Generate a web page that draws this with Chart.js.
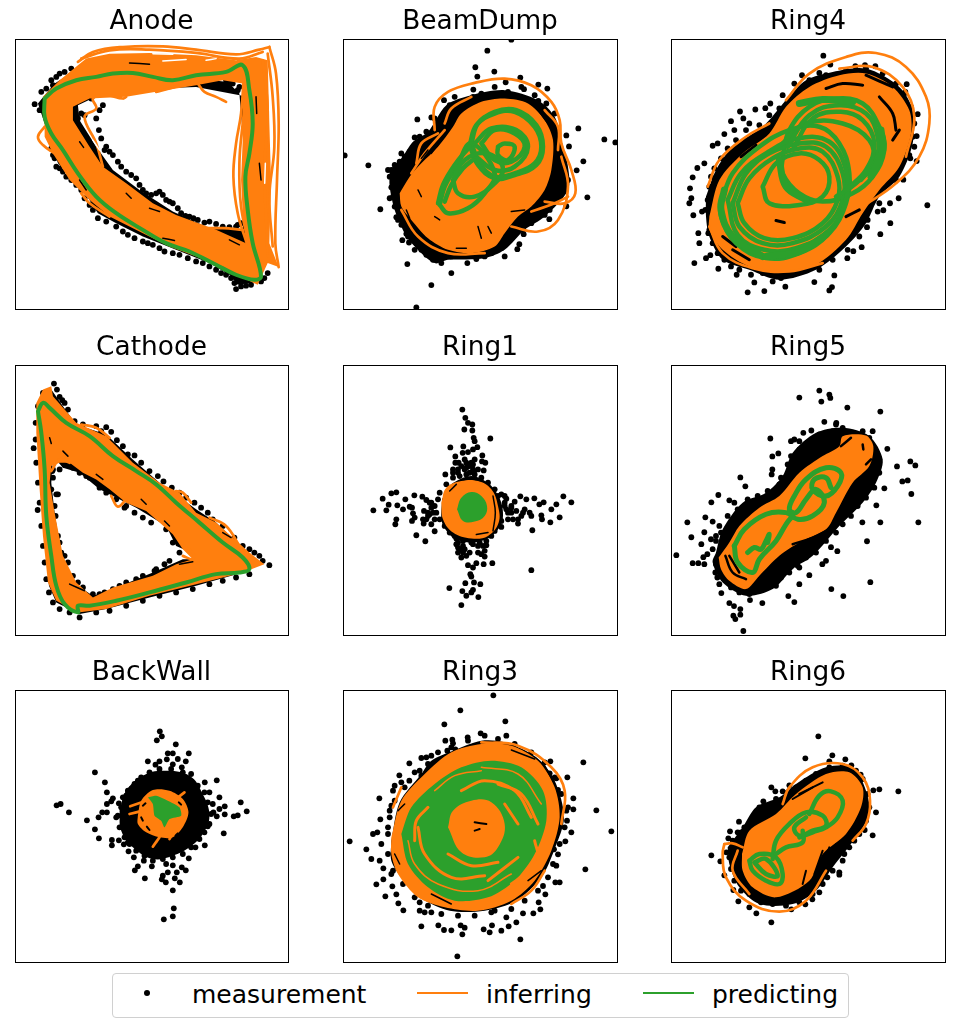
<!DOCTYPE html>
<html>
<head>
<meta charset="utf-8">
<title>Trajectories</title>
<script src="https://cdn.jsdelivr.net/npm/chart.js@4/dist/chart.umd.min.js"></script>
<style>
    html, body { margin: 0; padding: 0; background: white; }
    body { width: 954px; height: 1027px; position: relative; overflow: hidden; font-family: "DejaVu Sans", sans-serif; }
    canvas { position: absolute; }
    #legend { position: absolute; left: 112px; top: 973px; width: 735px; height: 43px; border: 1px solid #d0d0d0; border-radius: 4px; }
    #legend span { position: absolute; }
    .label { font-size: 25px; line-height: 30px; top: 6px; color: black; }
    .swatch { height: 2px; width: 51px; top: 18px; }
    #dot { left: 31px; top: 16px; width: 6px; height: 6px; border-radius: 50%; background: black; }
</style>
</head>
<body>
<div id="legend">
    <span id="dot"></span><span class="label" style="left:79px">measurement</span>
    <span class="swatch" style="left:304px;background:#ff7f0e"></span><span class="label" style="left:373px">inferring</span>
    <span class="swatch" style="left:530px;background:#2ca02c"></span><span class="label" style="left:599px">predicting</span>
</div>
<script>
const titles = ["Anode", "BeamDump", "Ring4", "Cathode", "Ring1", "Ring5", "BackWall", "Ring3", "Ring6"];

// all values, one unit is a third of a pixel
const anodeDots = [[195,235],[205,265],[225,255],[245,205],[280,225],[270,240],[268,300],[275,325],[290,350],[310,375],[325,395],[350,425],[380,445],[400,480],[425,495],[450,485],[470,510],[490,520],[515,550],[540,560],[565,570],[600,575],[640,590],[680,590],[695,580],[75,222],[95,185],[125,150],[130,165],[150,130],[185,115],[290,175],[660,155],[690,170],[135,385],[140,410],[160,425],[185,450],[215,480],[240,525],[265,565],[320,590],[355,615],[400,635],[430,645],[465,665],[510,675],[560,695],[600,710],[635,730],[665,745],[680,778],[710,768],[765,745],[775,730],[110,175],[140,140],[165,125],[90,240],[125,355],[130,375],[150,415],[170,440],[200,465],[225,505],[250,540],[290,575],[340,605],[375,625],[415,640],[450,655],[490,670],[535,685],[580,700],[620,720],[650,735],[675,760],[695,770],[725,765],[755,755],[215,250],[260,265],[285,360],[300,365],[335,410],[365,435],[390,465],[410,490],[440,490],[460,495],[480,515],[505,535],[528,558],[552,565],[585,578],[620,582],[660,592],[685,585],[650,150],[670,160],[685,180]];
const anodeMass = [[85,220],[105,195],[135,160],[190,125],[400,125],[655,155],[690,190],[735,735],[760,745],[725,760],[685,765],[660,735],[600,700],[500,660],[400,620],[320,580],[265,550],[220,480],[145,400],[125,340],[85,220],[210,270],[260,350],[310,420],[390,480],[490,545],[600,595],[700,600],[715,200],[560,170],[300,180],[205,225],[210,270],[85,220]];
const anodeOrange = [[205,105],[230,85],[300,70],[420,68],[560,75],[680,90],[740,80],[775,90],[780,280],[785,450],[780,640],[808,712],[775,700],[745,765],[700,745],[640,710],[560,680],[480,650],[400,610],[300,560],[240,510],[180,450],[130,370],[105,320],[105,270],[100,200],[150,150],[205,105],[240,205],[190,230],[190,270],[240,350],[280,410],[350,460],[430,520],[500,555],[620,600],[710,640],[700,550],[695,450],[700,330],[700,160],[640,150],[560,165],[440,185],[350,200],[240,205],[205,105]];
const anodeLoops = [[[565,160],[585,185],[620,200],[650,215]],[[350,200],[340,205],[290,195],[250,205],[260,235],[225,260],[260,340],[280,410]],[[105,290],[85,320],[100,345],[135,370]],[[700,600],[640,595],[590,595]],[[440,185],[480,175],[540,155]],[[300,560],[240,520],[215,490]],[[205,95],[250,65],[340,50],[460,48],[560,58],[680,72],[750,58],[780,50]],[[215,85],[300,60],[420,58],[560,68],[690,85],[760,65]],[[780,50],[800,130],[808,280],[803,450],[798,640],[808,712]],[[775,70],[790,200],[795,350],[780,500],[790,650]],[[760,90],[775,240],[765,420],[770,560],[775,680]],[[705,110],[695,250],[680,340],[672,440],[685,550],[712,640]],[[715,160],[700,280],[690,400],[695,530],[720,650]]];
const anodeStreaks = [[[210,335],[222,352]],[[360,98],[420,102]],[[740,200],[742,250]],[[750,400],[755,450]],[[460,625],[495,632]],[[210,450],[230,480]],[[420,535],[450,545]],[[660,630],[690,645]],[[350,490],[365,505]]];
const anodeGaps = [[[768,400],[766,460]],[[460,92],[530,88]],[[430,70],[490,72]],[[270,360],[250,330]],[[590,90],[620,85]]];
const anodeGreen = [[[105,205],[140,175],[200,150],[260,140],[310,130],[370,128],[430,140],[490,150],[560,135],[650,125],[700,105],[720,180],[730,280],[720,370],[708,440],[715,540],[730,640],[755,740],[735,750],[680,735],[620,705],[540,665],[470,640],[400,600],[320,550],[260,500],[205,430],[160,360],[125,310],[105,260],[105,205]]];

const beamDots = [[520,28],[448,61],[412,111],[418,139],[469,124],[547,142],[601,163],[628,175],[238,268],[721,295],[685,316],[799,328],[832,337],[20,376],[91,406],[736,394],[716,421],[693,349],[748,502],[685,529],[127,538],[634,568],[193,631],[208,703],[340,730],[280,766],[235,833],[538,658],[544,643],[557,613],[388,700],[415,688],[500,680],[190,370],[230,322],[280,262],[318,210],[375,213],[406,178],[503,156],[558,177],[601,212],[150,420],[155,440],[160,472],[155,505],[175,562],[205,612],[213,638],[170,405],[185,395],[200,380],[215,365],[230,345],[245,320],[265,305],[290,265],[335,225],[350,200],[160,420],[175,445],[165,500],[170,530],[180,570],[190,585],[210,620],[230,660],[250,660],[265,675],[285,690],[310,700],[340,680],[370,675],[440,680],[460,670],[490,655],[510,625],[555,600],[580,580],[620,555],[650,510],[680,480],[690,450],[665,410],[660,350],[660,310],[650,250],[625,220],[590,195],[550,170],[510,185],[470,170],[430,190],[405,200],[635,540],[600,555]];
const beamMass = [[155,420],[190,385],[225,335],[270,305],[325,225],[400,195],[500,180],[600,210],[650,260],[670,330],[690,410],[690,480],[620,560],[560,600],[500,660],[440,685],[330,690],[290,700],[230,650],[200,610],[170,540],[155,470],[155,420]];
const beamOrange = [[185,490],[215,440],[250,400],[300,350],[345,290],[370,250],[430,215],[500,205],[570,220],[620,270],[645,330],[640,420],[620,480],[580,530],[540,560],[500,610],[470,650],[400,670],[330,660],[270,625],[220,570],[190,530],[185,490]];
const beamLoops = [[[290,300],[290,230],[330,185],[410,158],[500,145],[580,165],[640,215],[665,270],[670,340],[700,420],[712,490],[680,520],[620,515]],[[520,590],[600,605],[660,570],[690,470],[670,380]],[[235,400],[250,340],[300,310]],[[320,280],[340,235],[400,200]],[[620,240],[660,290],[660,360]],[[580,545],[650,520],[690,500]],[[220,430],[260,370],[320,300]],[[190,540],[240,620],[330,670],[440,670]]];
const beamStreaks = [[[205,540],[215,565]],[[450,590],[460,610]],[[520,545],[560,540]],[[240,480],[250,500]],[[355,655],[385,655]],[[640,450],[650,480]],[[600,240],[630,280]],[[280,370],[310,330]],[[250,385],[270,360]],[[550,590],[590,570]],[[420,590],[430,625]],[[290,560],[305,570]]];
const beamGreen = [[[400,340],[420,280],[470,250],[530,245],[590,290],[610,350],[590,400],[530,430],[470,440],[425,400],[400,340]],[[395,345],[415,285],[470,245],[535,240],[595,285],[615,350],[595,405],[530,435],[470,445],[420,405],[395,345]],[[305,525],[320,470],[360,400],[400,340],[470,430],[440,490],[390,535],[330,550],[305,525]],[[320,515],[340,465],[375,415],[410,385]],[[300,520],[315,465],[350,405],[395,350]],[[430,340],[470,300],[530,310],[560,350],[520,395],[470,390],[430,340]],[[410,340],[460,295],[535,300],[570,350],[530,410],[470,420],[415,380]],[[480,350],[500,340],[530,350],[510,390],[480,375],[480,350]],[[345,450],[370,400],[420,370],[470,380],[495,420],[470,460],[410,500],[360,490],[345,450]]];

const ring4Dots = [[472,76],[493,103],[568,108],[597,105],[628,108],[408,135],[460,128],[722,162],[718,185],[755,252],[752,318],[745,350],[733,385],[752,393],[712,449],[784,526],[698,505],[672,520],[635,545],[652,541],[673,580],[643,613],[603,592],[587,652],[562,664],[544,685],[505,737],[498,772],[490,782],[445,757],[358,771],[295,784],[245,788],[265,758],[212,735],[157,717],[85,700],[120,685],[133,676],[100,640],[127,610],[97,610],[82,556],[108,545],[70,520],[76,505],[72,475],[80,442],[94,414],[115,400],[140,347],[155,340],[175,312],[195,273],[222,244],[232,265],[268,238],[298,234],[313,220],[350,195],[385,160],[250,280],[205,300],[130,470],[125,510],[118,540],[130,600],[140,640],[155,670],[175,690],[195,710],[220,720],[255,735],[290,730],[320,755],[345,745],[380,730],[420,720],[460,720],[500,690],[545,660],[580,620],[605,570],[640,520],[690,450],[730,375],[740,320],[745,280],[735,230],[715,190],[690,160],[650,130],[600,115],[540,120],[480,135],[430,150],[390,190],[365,215],[340,235],[310,255],[280,285],[240,300],[210,330],[185,355],[165,385],[145,415],[135,440]];
const ring4Mass = [[120,500],[150,420],[200,350],[290,290],[360,210],[420,150],[500,125],[600,115],[700,170],[740,240],[740,340],[700,440],[640,500],[600,580],[540,650],[450,720],[340,750],[250,720],[170,690],[130,620],[120,560],[120,500]];
const ring4Orange = [[130,560],[160,450],[230,370],[310,310],[360,230],[430,170],[520,135],[600,130],[680,170],[730,240],[735,310],[700,410],[640,480],[590,550],[540,630],[450,705],[350,725],[250,710],[170,660],[130,600],[130,560]];
const ring4Loops = [[[360,210],[430,130],[540,80],[630,68],[720,110],[780,200],[790,280],[760,380],[690,460],[590,530]],[[125,470],[160,390],[240,320],[310,280]],[[130,590],[170,670],[260,715],[370,725],[470,700]],[[520,115],[620,110],[710,170],[745,260],[720,380]]];
const ring4Streaks = [[[640,200],[680,250],[690,300]],[[480,175],[530,160],[590,165]],[[600,135],[680,170]],[[170,620],[210,650]],[[225,380],[270,345]],[[200,660],[250,690]],[[330,572],[355,578]],[[680,330],[700,300]],[[540,560],[580,540]]];
const ring4Green = [[[350,380],[370,300],[430,230],[510,205],[590,220],[640,290],[655,360],[620,440],[560,490],[470,515],[400,490],[350,430],[350,380]],[[165,520],[200,430],[280,350],[370,300],[460,290],[520,340],[550,430],[540,520],[490,610],[400,670],[300,685],[210,640],[165,560],[165,520]],[[290,470],[330,400],[400,370],[460,390],[490,440],[470,500],[400,525],[310,520],[290,470]],[[200,520],[240,430],[310,370],[400,340],[480,350],[530,430],[530,510],[480,590],[380,640],[290,640],[220,590],[200,520]],[[350,340],[420,280],[530,280],[610,330],[620,400],[570,460],[510,500]],[[185,510],[225,430],[300,370],[395,325],[490,335],[540,420],[540,510],[490,600],[390,655],[295,660],[215,615],[185,510]],[[215,520],[250,445],[320,385],[400,355],[470,365],[515,440],[515,510],[470,580],[380,625],[295,625],[235,580],[215,520]],[[365,350],[430,255],[520,225],[600,250],[635,320],[630,390],[585,450]],[[380,360],[440,265],[525,245],[590,270],[625,340],[600,420],[540,480]]];
const ring4GreenWide = [[[340,390],[360,470],[420,510]],[[645,300],[650,360],[615,440]],[[400,220],[470,208],[560,215]],[[175,480],[165,540],[200,620],[290,680]],[[300,680],[400,665],[480,615]]];

const cathodeDots = [[133,82],[142,100],[150,122],[165,140],[290,213],[305,227],[322,252],[375,298],[445,360],[462,376],[487,395],[555,440],[595,470],[720,580],[750,600],[780,628],[72,276],[84,462],[140,415],[130,340],[145,415],[138,480],[145,540],[155,590],[175,620],[190,660],[250,715],[285,710],[330,690],[380,670],[435,645],[465,625],[345,455],[375,470],[400,485],[270,395],[240,365],[210,350],[165,327],[158,132],[175,160],[195,195],[220,205],[260,210],[275,225],[340,270],[355,295],[395,320],[420,345],[510,410],[530,425],[575,455],[610,490],[640,510],[675,545],[700,570],[735,590],[760,615],[720,655],[680,665],[640,675],[600,685],[550,700],[500,710],[450,720],[400,735],[350,750],[300,765],[260,770],[210,785],[180,770],[150,760],[130,740],[118,710],[110,670],[105,620],[100,570],[95,510],[90,440],[85,380],[80,320],[78,250],[78,200],[85,150],[100,110],[128,345],[130,365],[150,340],[190,335],[230,360],[290,410],[320,430],[350,450],[425,500],[470,520],[490,560],[510,590],[480,615],[440,640],[400,660],[350,680],[310,700],[270,715],[220,695],[205,680],[165,600],[150,560],[135,450],[125,400]];
const cathodeMass = [[125,100],[160,150],[200,205],[290,235],[370,310],[450,380],[560,460],[620,500],[715,590],[755,625],[700,650],[560,690],[420,725],[290,760],[210,775],[140,740],[118,690],[105,540],[95,400],[85,275],[90,150],[125,100],[130,300],[125,380],[135,470],[155,600],[190,680],[250,720],[310,700],[430,650],[520,610],[590,610],[500,570],[470,510],[380,455],[270,400],[210,350],[160,335],[130,300],[125,100]];
const cathodeOrange = [[125,90],[130,120],[200,200],[290,240],[370,320],[450,380],[510,410],[560,470],[620,500],[720,590],[765,625],[700,650],[560,685],[420,720],[290,760],[205,770],[140,735],[115,680],[100,540],[90,400],[80,230],[80,140],[100,100],[125,90],[125,330],[120,380],[135,470],[160,600],[200,680],[250,725],[310,695],[430,660],[500,625],[550,610],[520,580],[490,535],[450,500],[410,465],[350,440],[300,400],[260,370],[220,350],[180,320],[150,320],[125,330],[125,90]];
const cathodeLoops = [[[125,345],[150,310],[180,320]],[[305,420],[325,452],[350,430]],[[500,405],[520,410],[545,440]],[[520,570],[550,590],[550,610],[520,600]],[[600,485],[650,510],[690,570]],[[215,205],[260,215],[300,245]]];
const cathodeStreaks = [[[120,245],[125,262]],[[260,355],[280,370]],[[395,430],[410,445]],[[465,495],[480,510]],[[640,530],[665,545]],[[510,625],[550,618]],[[180,685],[225,705]],[[160,285],[175,300]]];
const cathodeGreen = [[[85,165],[100,140],[120,155],[170,200],[240,240],[310,300],[380,345],[440,385],[500,440],[570,500],[640,560],[700,605],[720,640],[690,650],[620,655],[530,680],[420,710],[320,735],[240,750],[205,750],[205,770],[165,745],[140,690],[125,600],[110,480],[105,340],[95,230],[85,165]]];

const ring1Dots = [[373,160],[382,185],[390,200],[403,205],[379,220],[403,223],[407,245],[457,247],[410,255],[337,274],[376,271],[418,273],[405,280],[374,290],[390,288],[433,298],[352,301],[380,310],[352,320],[362,320],[385,320],[405,325],[432,316],[442,320],[345,340],[322,355],[360,350],[380,340],[420,340],[437,343],[408,345],[160,412],[175,409],[229,418],[253,422],[134,428],[202,430],[152,446],[178,448],[265,432],[275,440],[106,463],[145,463],[195,460],[215,452],[222,455],[258,465],[225,472],[275,475],[230,485],[175,490],[172,505],[222,495],[255,490],[257,503],[235,538],[262,556],[290,526],[280,505],[290,490],[547,421],[565,430],[589,427],[617,439],[604,445],[676,421],[700,439],[655,445],[640,460],[610,478],[665,484],[637,499],[612,490],[580,480],[560,460],[540,490],[540,503],[583,523],[530,437],[505,428],[490,415],[520,470],[490,513],[580,643],[463,622],[437,625],[415,622],[390,628],[405,635],[397,655],[400,662],[382,682],[408,680],[427,685],[334,697],[373,706],[405,702],[400,710],[385,720],[421,724],[370,748],[355,548],[365,580],[360,590],[435,570],[430,595],[440,602],[370,605],[395,590],[445,568],[405,565],[460,540],[300,430],[290,450],[295,470],[305,490],[320,510],[335,530],[350,540],[375,555],[400,560],[425,560],[445,555],[470,525],[490,495],[500,450],[480,420],[470,400],[450,380],[430,365],[410,355],[385,355],[365,360],[345,365],[325,385],[305,410],[280,455],[285,470],[270,480],[505,460],[520,455],[535,465],[555,470],[575,470],[510,490],[525,490],[355,565],[375,570],[420,570],[440,585],[375,590],[360,575],[395,350],[405,340],[360,340],[370,330],[395,330],[280,440],[270,470],[265,490],[500,440],[510,470],[550,480],[500,420],[520,450],[360,560],[380,580],[420,590],[385,600],[345,350],[385,335],[400,320],[410,310]];
const ring1Mass = [[312,430],[340,385],[400,360],[455,385],[490,440],[492,500],[455,545],[400,560],[345,545],[312,500],[312,430]];
const ring1Orange = [[310,440],[325,395],[370,375],[420,375],[460,400],[480,450],[482,500],[450,540],[400,548],[345,530],[315,490],[310,440]];
const ring1Streaks = [[[465,420],[472,470],[465,525]],[[335,405],[355,385]],[[415,536],[450,530]]];
const ring1Green = [[357,460],[370,425],[400,408],[430,420],[447,450],[440,480],[410,497],[375,495],[357,460]];

const ring5Dots = [[460,103],[490,115],[493,125],[466,136],[400,124],[544,154],[643,166],[475,197],[511,200],[313,247],[319,301],[337,292],[664,278],[610,245],[693,331],[733,316],[748,328],[709,376],[725,373],[736,414],[757,499],[643,499],[589,499],[631,448],[655,397],[603,556],[514,586],[495,574],[480,615],[469,625],[430,658],[400,685],[613,679],[496,700],[532,721],[367,721],[385,739],[289,742],[252,733],[190,742],[204,751],[223,760],[223,777],[208,790],[202,780],[232,826],[166,712],[160,685],[154,665],[148,650],[80,622],[97,622],[115,625],[31,598],[112,604],[124,595],[106,565],[76,544],[115,529],[64,499],[118,484],[140,497],[157,417],[136,439],[190,433],[205,440],[223,364],[238,391],[319,340],[317,355],[345,365],[375,255],[385,250],[412,230],[436,223],[400,255],[430,260],[150,540],[140,580],[430,590],[400,635],[170,590],[185,540],[200,510],[230,470],[165,530],[150,555],[160,600],[150,625],[165,650],[175,670],[195,695],[220,710],[250,715],[270,700],[300,690],[330,690],[345,665],[370,650],[395,630],[420,605],[450,590],[480,555],[510,530],[530,505],[555,480],[575,450],[600,425],[625,395],[640,350],[640,310],[620,225],[590,225],[530,215],[500,225],[460,235],[430,260],[400,280],[375,300],[365,325],[340,385],[305,405],[275,420],[245,430],[215,460],[185,480],[160,510],[135,550],[510,205]];
const ring5Mass = [[150,590],[170,520],[230,440],[300,410],[350,360],[380,290],[450,230],[530,215],[610,240],[650,310],[630,380],[590,440],[520,510],[440,600],[380,640],[320,700],[240,720],[170,680],[140,620],[150,590]];
const ring5Orange = [[158,605],[190,560],[220,510],[280,455],[340,420],[400,350],[470,300],[520,270],[530,240],[600,238],[622,270],[610,330],[560,380],[510,470],[480,520],[400,560],[340,600],[280,660],[240,700],[190,675],[165,640],[158,605]];
const ring5Streaks = [[[178,600],[200,650],[240,670]],[[190,600],[220,650]],[[380,565],[440,545],[500,515]],[[525,270],[555,245]],[[600,325],[615,310]],[[590,265],[592,280]]];
const ring5Green = [[[205,570],[235,520],[300,475],[360,470],[395,490],[440,480],[475,440],[450,400],[420,430],[390,470],[370,460],[385,420],[420,370],[480,335],[525,350],[515,390],[480,420],[440,400],[445,370],[480,365],[495,395]],[[205,570],[215,620],[260,650],[280,610],[330,555],[360,505],[380,480]],[[245,590],[265,575],[285,580],[300,555],[310,535],[305,560]]];

const backDots = [[451,142],[457,157],[442,169],[499,181],[538,208],[475,208],[490,208],[505,225],[472,226],[490,241],[529,232],[415,232],[450,232],[438,242],[517,250],[256,265],[286,295],[622,289],[586,295],[292,325],[600,325],[630,340],[310,343],[328,358],[305,352],[292,360],[153,360],[141,364],[178,385],[278,385],[292,385],[267,400],[232,409],[694,355],[646,367],[630,375],[712,382],[685,394],[673,397],[646,391],[622,397],[612,385],[610,360],[256,436],[268,463],[595,427],[643,448],[307,468],[328,469],[307,484],[343,481],[355,475],[586,484],[558,490],[357,502],[373,520],[538,523],[403,530],[427,547],[385,547],[376,559],[470,540],[490,544],[517,550],[529,559],[502,565],[475,565],[406,583],[460,575],[457,586],[469,595],[496,583],[511,595],[490,619],[493,673],[490,697],[463,706],[350,335],[365,315],[385,290],[335,370],[325,395],[340,340],[355,320],[375,300],[395,280],[420,265],[450,255],[485,255],[520,265],[545,270],[565,305],[585,325],[595,355],[605,390],[600,420],[585,445],[570,465],[545,490],[520,510],[490,520],[460,525],[430,530],[405,515],[380,500],[360,480],[345,460],[330,430],[320,400]];
const backMass = [[330,380],[350,320],[400,275],[460,260],[540,275],[580,330],[600,395],[580,450],[540,490],[490,515],[430,525],[370,490],[335,440],[330,380]];
const backOrange = [[385,395],[395,350],[430,318],[480,320],[520,345],[537,385],[520,430],[490,460],[450,460],[410,445],[385,420],[385,395]];
const backLoops = [[[362,367],[410,350]],[[360,390],[400,380]],[[430,488],[450,460],[440,475]],[[500,345],[525,325]],[[480,465],[495,440]]];
const backStreaks = [[[395,400],[400,410]],[[412,428],[420,438]],[[508,355],[515,362]],[[498,455],[505,448]],[[400,365],[408,358]]];
const backGreen = [[415,340],[440,335],[475,350],[510,370],[515,395],[480,405],[465,430],[455,410],[435,395],[430,360],[415,340]];

const ring3Dots = [[466,34],[367,79],[502,112],[319,121],[428,148],[505,155],[389,160],[343,167],[322,170],[345,178],[328,200],[352,196],[214,238],[250,222],[280,215],[270,240],[245,260],[250,275],[184,274],[214,290],[190,295],[170,305],[165,320],[124,343],[160,365],[155,380],[127,406],[150,430],[118,445],[105,450],[130,480],[35,472],[85,496],[100,525],[125,530],[136,553],[160,570],[136,586],[115,601],[163,607],[142,637],[175,631],[181,658],[196,679],[245,655],[245,680],[260,685],[280,685],[250,727],[301,724],[318,738],[340,739],[373,751],[368,724],[380,731],[358,817],[437,736],[455,745],[462,724],[490,740],[512,727],[535,715],[547,766],[505,700],[470,680],[555,688],[586,688],[607,676],[602,655],[622,631],[615,606],[652,595],[665,595],[655,545],[742,556],[660,511],[648,496],[682,472],[700,445],[820,442],[775,379],[706,376],[706,343],[688,280],[736,235],[637,232],[635,268],[655,283],[660,318],[690,370],[687,410],[170,350],[155,400],[150,450],[150,510],[165,560],[195,600],[230,640],[270,665],[310,690],[360,695],[410,695],[460,685],[520,675],[560,650],[600,620],[630,580],[645,540],[665,480],[680,430],[685,380],[670,330],[650,280],[620,235],[580,205],[530,180],[480,165],[440,155],[390,170],[340,190],[300,205],[265,220],[230,265],[200,310]];
const ring3Mass = [[160,470],[185,355],[250,270],[280,230],[345,200],[430,170],[500,175],[595,220],[650,290],[678,400],[650,495],[610,580],[535,650],[440,680],[335,680],[245,640],[190,580],[160,530],[160,470]];
const ring3Orange = [[160,460],[190,350],[260,270],[340,205],[430,180],[520,185],[600,230],[650,310],[665,400],[640,500],[590,590],[520,650],[420,680],[320,670],[240,640],[180,570],[160,510],[160,460]];
const ring3Loops = [[[165,370],[190,310]],[[430,175],[540,185],[640,250],[680,320],[670,420]],[[620,560],[580,620],[520,660]]];
const ring3Streaks = [[[410,415],[445,420]],[[425,435],[410,440]],[[180,380],[200,360]],[[620,245],[650,300]],[[520,198],[590,225]],[[280,630],[340,660]],[[170,510],[185,540]],[[570,590],[610,560]]];
const ring3Green = [[190,450],[220,370],[290,300],[370,250],[460,230],[550,250],[615,320],[625,410],[590,510],[530,590],[450,640],[350,650],[270,610],[210,540],[190,450]];
const ring3Center = [[330,430],[345,380],[400,350],[460,355],[500,420],[480,490],[440,520],[370,505],[330,430]];
const ring3Arcs = [[[240,430],[260,510],[340,580],[440,575]],[[370,320],[440,290],[530,320],[580,400]],[[480,300],[550,330],[600,420]],[[500,360],[540,420]],[[450,590],[540,520]],[[590,470],[600,530],[560,570],[520,600]],[[270,370],[235,410],[230,470]],[[330,510],[400,545],[480,535]]];
const ring3ArcsThin = [[[210,470],[230,540],[300,600],[420,620],[520,570]],[[430,250],[540,270],[610,360]],[[290,320],[350,275],[430,260]]];

const ring6Dots = [[457,157],[418,223],[499,214],[538,226],[490,232],[556,244],[622,319],[640,316],[697,322],[630,385],[620,454],[596,438],[584,272],[316,310],[328,322],[350,322],[370,304],[292,352],[280,370],[270,385],[219,413],[192,442],[225,445],[187,463],[136,514],[163,532],[181,505],[175,574],[202,618],[217,652],[250,670],[271,688],[316,715],[376,676],[418,661],[439,646],[460,625],[520,565],[520,572],[484,580],[535,510],[565,470],[200,470],[215,445],[235,430],[255,410],[275,385],[300,375],[330,345],[345,350],[365,325],[390,310],[420,290],[450,270],[490,250],[530,245],[570,260],[590,285],[605,330],[610,370],[600,410],[580,450],[550,490],[530,530],[500,560],[470,600],[440,630],[400,655],[360,665],[320,660],[285,655],[250,630],[225,620],[205,590],[195,555],[190,520]];
const ring6Mass = [[185,490],[230,430],[270,370],[340,340],[390,300],[480,250],[560,250],[600,320],[610,390],[570,460],[500,550],[450,620],[380,660],[280,660],[220,610],[190,540],[185,490]];
const ring6Orange = [[228,510],[250,440],[330,390],[390,330],[480,270],[550,265],[590,310],[585,370],[540,450],[470,510],[430,590],[330,640],[260,610],[230,560],[228,510]];
const ring6Loops = [[[175,480],[200,478],[230,490]],[[175,480],[170,510],[180,580],[240,650],[340,683],[420,650],[480,560]],[[350,360],[370,310],[440,250],[530,240],[590,280],[612,350],[600,420],[560,470]],[[215,500],[200,560],[250,630]]];
const ring6Streaks = [[[470,500],[445,570]],[[490,490],[470,550]],[[510,480],[490,530]],[[530,470],[520,510]],[[420,560],[410,600]],[[380,345],[440,310]],[[400,330],[470,295]]];
const ring6Green = [[[250,530],[280,510],[330,520],[350,570],[340,600],[300,590],[260,560],[250,530]],[[265,535],[300,525],[335,575],[300,570],[265,535]],[[320,525],[330,470],[370,420],[420,385],[470,395],[480,425],[440,440],[400,455],[385,430],[420,400]],[[430,390],[460,335],[495,322],[530,350],[515,400],[480,430],[440,445],[400,460]],[[330,510],[360,490],[410,475],[410,440]]];

const xLimits = [[16, 836], [15, 837], [15, 837]];
const yLimits = [[26, 838], [26, 838], [18, 834]];
const lefts = [15, 343, 671];
const tops = [39, 365, 690];
const widths = [273, 274, 274];
const heights = [270, 270, 272];

const ORANGE = "#ff7f0e";
const GREEN = "#2ca02c";
const BLACK = "#000000";
const WHITE = "#ffffff";

function toXY(pts) {
    return pts.map(function (p) { return { x: p[0], y: p[1] }; });
}

function dots(pts) {
    return [{ data: toXY(pts), showLine: false, pointRadius: 2.9, pointBackgroundColor: BLACK, pointBorderWidth: 0 }];
}

function shape(pts, color, tension) {
    return [{ data: toXY(pts), showLine: true, fill: "shape", backgroundColor: color, borderWidth: 0, pointRadius: 0, tension: tension }];
}

function curves(list, color, width) {
    return list.map(function (pts) {
        return { data: toXY(pts), showLine: true, fill: false, borderColor: color, borderWidth: width, borderCapStyle: "round", borderJoinStyle: "round", pointRadius: 0, tension: 0.4 };
    });
}

// layers go from the bottom up
const layers = [
    [].concat(dots(anodeDots), shape(anodeMass, BLACK, 0), shape(anodeOrange, ORANGE, 0), curves(anodeLoops, ORANGE, 2.7), curves(anodeStreaks, BLACK, 1.5), curves(anodeGaps, WHITE, 1.5), curves(anodeGreen, GREEN, 4)),
    [].concat(dots(beamDots), shape(beamMass, BLACK, 0.3), shape(beamOrange, ORANGE, 0.3), curves(beamLoops, ORANGE, 2.7), curves(beamStreaks, BLACK, 1.5), curves(beamGreen, GREEN, 4.5)),
    [].concat(dots(ring4Dots), shape(ring4Mass, BLACK, 0.3), shape(ring4Orange, ORANGE, 0.3), curves(ring4Loops, ORANGE, 2.7), curves(ring4Streaks, BLACK, 3), curves(ring4Green, GREEN, 4.5), curves(ring4GreenWide, GREEN, 7)),
    [].concat(dots(cathodeDots), shape(cathodeMass, BLACK, 0), shape(cathodeOrange, ORANGE, 0), curves(cathodeLoops, ORANGE, 2.7), curves(cathodeStreaks, BLACK, 1.5), curves(cathodeGreen, GREEN, 4)),
    [].concat(dots(ring1Dots), shape(ring1Mass, BLACK, 0.3), shape(ring1Orange, ORANGE, 0.4), curves(ring1Streaks, BLACK, 1.5), shape(ring1Green, GREEN, 0.4)),
    [].concat(dots(ring5Dots), shape(ring5Mass, BLACK, 0.3), shape(ring5Orange, ORANGE, 0.3), curves(ring5Streaks, BLACK, 2.5), curves(ring5Green, GREEN, 5)),
    [].concat(dots(backDots), shape(backMass, BLACK, 0.4), shape(backOrange, ORANGE, 0.3), curves(backLoops, ORANGE, 2.7), curves(backStreaks, BLACK, 2), shape(backGreen, GREEN, 0.2)),
    [].concat(dots(ring3Dots), shape(ring3Mass, BLACK, 0.3), shape(ring3Orange, ORANGE, 0.3), curves(ring3Loops, ORANGE, 2.7), curves(ring3Streaks, BLACK, 1.5), shape(ring3Green, GREEN, 0.3), shape(ring3Center, ORANGE, 0.4), curves(ring3Arcs, ORANGE, 3), curves(ring3ArcsThin, ORANGE, 1.5), curves(ring3Streaks.slice(0, 2), BLACK, 2)),
    [].concat(dots(ring6Dots), shape(ring6Mass, BLACK, 0.3), shape(ring6Orange, ORANGE, 0.3), curves(ring6Loops, ORANGE, 2.7), curves(ring6Streaks, BLACK, 2), curves(ring6Green, GREEN, 4.5))
];

// matplotlib style box round the axes
const framePlugin = {
    id: "frame",
    afterDraw: function (chart) {
        const a = chart.chartArea;
        const ctx = chart.ctx;
        ctx.save();
        ctx.strokeStyle = "black";
        ctx.lineWidth = 1;
        ctx.strokeRect(a.left + 0.5, a.top + 0.5, a.right - a.left, a.bottom - a.top);
        ctx.restore();
    }
};

titles.forEach(function (title, i) {
    const col = i % 3;
    const row = Math.floor(i / 3);
    const canvas = document.createElement("canvas");
    canvas.width = widths[col] + 4;
    canvas.height = heights[row] + 35;
    canvas.style.left = (lefts[col] - 2) + "px";
    canvas.style.top = (tops[row] - 32) + "px";
    document.body.appendChild(canvas);

    new Chart(canvas.getContext("2d"), {
        type: "scatter",
        data: { datasets: layers[i].slice().reverse() },
        options: {
            responsive: false,
            animation: false,
            events: [],
            layout: { autoPadding: false, padding: { left: 2, right: 2, top: 0, bottom: 3 } },
            plugins: {
                legend: { display: false },
                tooltip: { enabled: false },
                title: {
                    display: true,
                    text: title,
                    color: "black",
                    font: { family: "DejaVu Sans", size: 26.4, weight: "normal", lineHeight: "30px" },
                    padding: { top: 0, bottom: 2 }
                }
            },
            scales: {
                x: { display: false, min: xLimits[col][0], max: xLimits[col][1] },
                y: { display: false, reverse: true, min: yLimits[row][0], max: yLimits[row][1] }
            }
        },
        plugins: [framePlugin]
    });
});
</script>
</body>
</html>
